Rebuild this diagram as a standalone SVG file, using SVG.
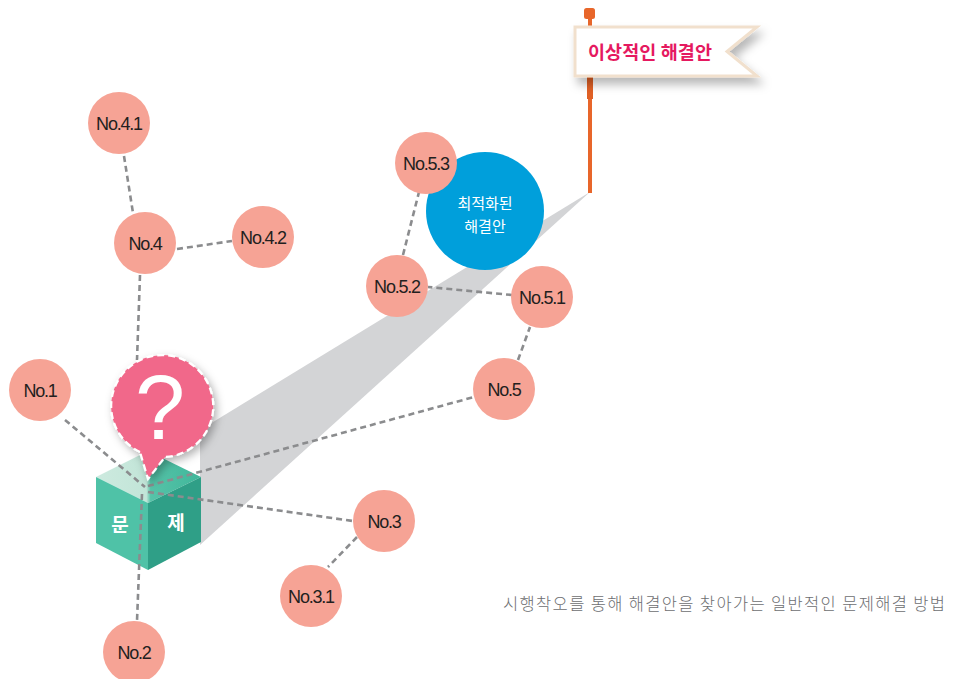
<svg xmlns="http://www.w3.org/2000/svg" width="959" height="679" viewBox="0 0 959 679">
  <defs>
    <style>
      .node circle { fill: #f6a395; }
      .node text { font-family: "Liberation Sans", Arial, sans-serif; font-size: 18px; letter-spacing: -1.2px; fill: #231f20; text-anchor: middle; }
      .conn line { stroke: #8b8c8e; stroke-width: 2.6; stroke-dasharray: 6 4; fill: none; }
      .kr { font-family: "Noto Sans CJK KR", "Noto Sans", sans-serif; }
    </style>
    <linearGradient id="topFace" x1="96" y1="0" x2="201" y2="0" gradientUnits="userSpaceOnUse">
      <stop offset="0" stop-color="#cdeadf"/>
      <stop offset="0.48" stop-color="#c2e5d8"/>
      <stop offset="0.52" stop-color="#56c3a8"/>
      <stop offset="1" stop-color="#40b79b"/>
    </linearGradient>
    <filter id="softShadow" x="-30%" y="-30%" width="170%" height="170%">
      <feDropShadow dx="3" dy="4" stdDeviation="4" flood-color="#000" flood-opacity="0.3"/>
    </filter>
    <filter id="flagShadow" x="-20%" y="-40%" width="150%" height="200%">
      <feDropShadow dx="4" dy="7" stdDeviation="5" flood-color="#000" flood-opacity="0.28"/>
    </filter>
  </defs>

  <rect width="959" height="679" fill="#ffffff"/>

  <!-- light beam from the problem towards the ideal solution -->
  <polygon id="beam" points="590,192 200,430 200,545" fill="#d3d4d6"/>

  <!-- problem cube -->
  <g id="cube">
    <polygon points="96,477 148,451 201,477 148,503" fill="url(#topFace)"/>
    <polygon points="96,477 148,503 148,570 96,543" fill="#4fc2a7"/>
    <polygon points="148,503 201,477 201,542 148,570" fill="#2f9f87"/>
    <text class="kr" x="120" y="532" font-size="19" font-weight="700" fill="#ffffff" text-anchor="middle">문</text>
    <text class="kr" x="176" y="530" font-size="19" font-weight="700" fill="#ffffff" text-anchor="middle">제</text>
  </g>

  <!-- dashed connectors -->
  <g id="connectors" class="conn">
    <line x1="124" y1="156" x2="133" y2="213"/>
    <line x1="177" y1="249" x2="232" y2="241"/>
    <line x1="140" y1="275" x2="137" y2="360"/>
    <line x1="65" y1="420" x2="145" y2="487"/>
    <line x1="148" y1="486" x2="474" y2="397"/>
    <line x1="148" y1="492" x2="353" y2="521"/>
    <line x1="142" y1="494" x2="137" y2="621"/>
    <line x1="357" y1="537" x2="328" y2="567"/>
    <line x1="518" y1="360" x2="530" y2="327"/>
    <line x1="512" y1="295" x2="428" y2="287"/>
    <line x1="403" y1="255" x2="419" y2="192"/>
  </g>

  <!-- optimized solution -->
  <g id="optimized">
    <circle cx="485" cy="211" r="59" fill="#009fdb"/>
    <text class="kr" x="485" y="209" font-size="15" fill="#ffffff" text-anchor="middle">최적화된</text>
    <text class="kr" x="485" y="232" font-size="15" fill="#ffffff" text-anchor="middle">해결안</text>
  </g>

  <!-- attempt nodes -->
  <g id="n41" class="node"><circle cx="119" cy="123" r="31"/><text x="119" y="130">No.4.1</text></g>
  <g id="n4" class="node"><circle cx="145" cy="243" r="31"/><text x="145" y="250">No.4</text></g>
  <g id="n42" class="node"><circle cx="263" cy="237" r="31"/><text x="263" y="244">No.4.2</text></g>
  <g id="n1" class="node"><circle cx="40" cy="390" r="31"/><text x="40" y="397">No.1</text></g>
  <g id="n53" class="node"><circle cx="426" cy="163" r="31"/><text x="426" y="170">No.5.3</text></g>
  <g id="n52" class="node"><circle cx="397" cy="286" r="31"/><text x="397" y="293">No.5.2</text></g>
  <g id="n51" class="node"><circle cx="542" cy="297" r="31"/><text x="542" y="304">No.5.1</text></g>
  <g id="n5" class="node"><circle cx="504" cy="389" r="31"/><text x="504" y="396">No.5</text></g>
  <g id="n3" class="node"><circle cx="384" cy="521" r="31"/><text x="384" y="528">No.3</text></g>
  <g id="n31" class="node"><circle cx="311" cy="596" r="31"/><text x="311" y="603">No.3.1</text></g>
  <g id="n2" class="node"><circle cx="134" cy="652" r="31"/><text x="134" y="659">No.2</text></g>

  <!-- question bubble -->
  <g id="question">
    <path d="M140,452 A51,51 0 1 1 165,457 L148,479 Z" fill="#f1678a" stroke="#ffffff" stroke-width="2.2" stroke-dasharray="7 4" filter="url(#softShadow)"/>
    <text x="160" y="439" font-family="Liberation Sans, Arial, sans-serif" font-size="90" fill="#ffffff" text-anchor="middle">?</text>
  </g>

  <!-- ideal solution flag -->
  <g id="flag">
    <rect x="584" y="8" width="11" height="11" rx="2.5" fill="#e8662a"/>
    <rect x="588" y="17" width="4" height="176" fill="#e8662a"/>
    <rect x="587" y="76" width="6" height="23" fill="#e06025"/>
    <path d="M575,27 L757,27 L727,51.5 L757,76 L575,76 Z" fill="#ffffff" stroke="#f1e0cd" stroke-width="3" stroke-linejoin="miter" filter="url(#flagShadow)"/>
    <text class="kr" x="588" y="58.5" font-size="18.5" font-weight="700" fill="#e5195f" textLength="124" lengthAdjust="spacing">이상적인 해결안</text>
  </g>

  <!-- caption -->
  <text id="caption" class="kr" x="503" y="610" font-size="16.5" font-weight="300" fill="#6d6e71" textLength="442" lengthAdjust="spacing">시행착오를 통해 해결안을 찾아가는 일반적인 문제해결 방법</text>
</svg>
